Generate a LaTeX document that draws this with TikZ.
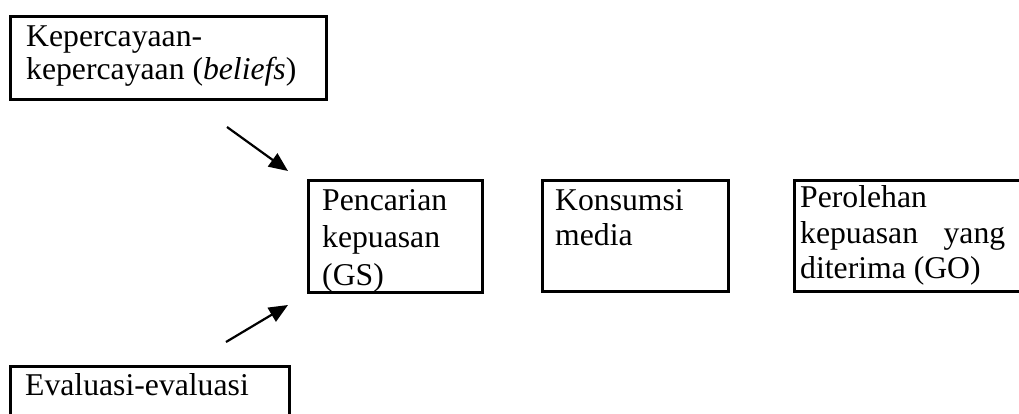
\documentclass[tikz,border=0pt]{standalone}
\usepackage{fontspec}
\setmainfont{Liberation Serif}
\usetikzlibrary{arrows.meta}
\begin{document}
\begin{tikzpicture}[x=1pt,y=-1pt,
  box/.style={draw,line width=2.8pt,rectangle,anchor=north west,inner sep=0pt},
  txt/.style={anchor=base west,inner sep=0pt,font=\fontsize{31.7}{37}\selectfont},
  flow/.style={line width=2.2pt,-{Triangle[length=19pt,width=16pt]}}]
\useasboundingbox (0,0) rectangle (1019,413);
\clip (0,0) rectangle (1019,413);
% boxes
\node[box,minimum width=316pt,minimum height=83pt] (bel) at (9,15) {};
\node[box,minimum width=174pt,minimum height=112pt] (gs) at (307,179) {};
\node[box,minimum width=186pt,minimum height=111pt] (med) at (541,179) {};
\node[box,minimum width=240pt,minimum height=111pt] (go) at (793,179) {};
\node[box,minimum width=279pt,minimum height=70pt] (eva) at (9,365) {};
% texts
\node[txt] (bel1) at (26,46.5) {Kepercayaan-};
\node[txt] (bel2) at (26,79) {kepercayaan (\textit{beliefs})};
\node[txt] (gs1) at (322,210) {Pencarian};
\node[txt] (gs2) at (322,247) {kepuasan};
\node[txt] (gs3) at (322,285) {(GS)};
\node[txt] (med1) at (555,210) {Konsumsi};
\node[txt] (med2) at (555,245) {media};
\node[txt] (go1) at (800,207) {Perolehan};
\node[txt] (go2) at (800,243) {\makebox[205pt][s]{kepuasan yang}};
\node[txt] (go3) at (800,278) {diterima (GO)};
\node[txt] (eva1) at (25,395) {Evaluasi-evaluasi};
% arrows into the seeking box
\coordinate (a1s) at (227,127);
\coordinate (a1e) at (288,171);
\coordinate (a2s) at (226,342);
\coordinate (a2e) at (288,305);
\draw[flow] (a1s) -- (a1e);
\draw[flow] (a2s) -- (a2e);
\end{tikzpicture}
\end{document}
